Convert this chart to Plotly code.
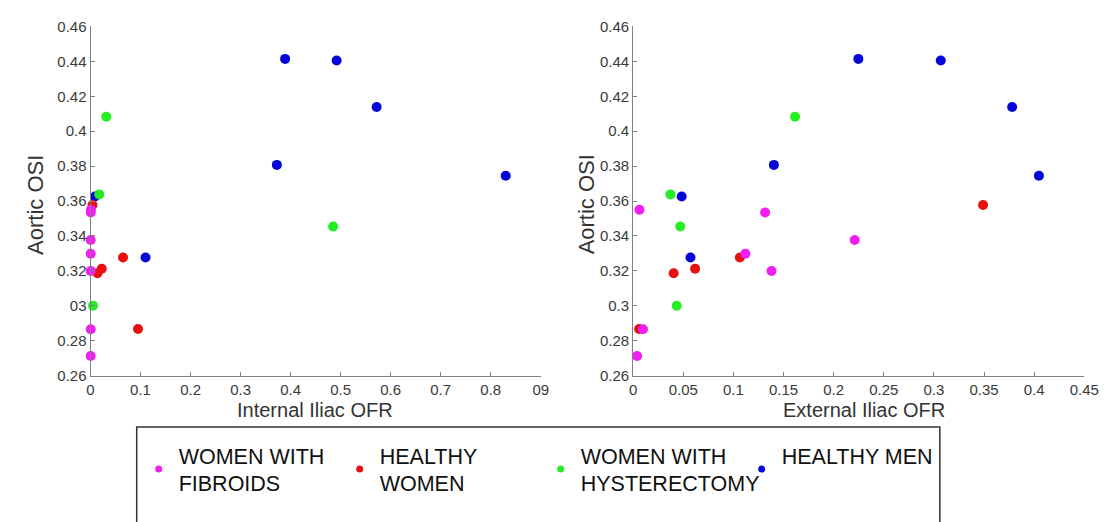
import plotly.graph_objects as go

W, H = 1119, 522

# ---------------- data ----------------
groups = ["WOMEN WITH<br>FIBROIDS", "HEALTHY<br>WOMEN", "WOMEN WITH<br>HYSTERECTOMY", "HEALTHY MEN<br> "]
colors = ["#f01ef0", "#e8100f", "#22ee22", "#0505d8"]

# Aortic OSI per subject (shared by both panels)
osi_fibroids = [0.3550, 0.3534, 0.3377, 0.3298, 0.3199, 0.2866, 0.2713]
osi_healthy_women = [0.3577, 0.3277, 0.3186, 0.3212, 0.2867]
osi_hysterectomy = [0.4083, 0.3638, 0.3454, 0.3000]
osi_healthy_men = [0.4414, 0.4405, 0.4139, 0.3807, 0.3745, 0.3626, 0.3277]

# Internal iliac OFR
int_fibroids = [0.0008, 0.0006, 0.0004, 0.0004, 0.0004, 0.0004, 0.0004]
int_healthy_women = [0.0040, 0.0650, 0.0140, 0.0225, 0.0950]
int_hysterectomy = [0.0315, 0.0175, 0.4850, 0.0050]
int_healthy_men = [0.3890, 0.4920, 0.5720, 0.3725, 0.8300, 0.0090, 0.1100]

# External iliac OFR
ext_fibroids = [0.0063, 0.1316, 0.2210, 0.1120, 0.1380, 0.0098, 0.0039]
ext_healthy_women = [0.3490, 0.1064, 0.0404, 0.0618, 0.0060]
ext_hysterectomy = [0.1615, 0.0372, 0.0470, 0.0435]
ext_healthy_men = [0.2246, 0.3068, 0.3780, 0.1404, 0.4047, 0.0484, 0.0572]

y_tickvals = [0.26, 0.28, 0.30, 0.32, 0.34, 0.36, 0.38, 0.40, 0.42, 0.44, 0.46]
y_ticktext_left = ["0.26", "0.28", "03", "0.32", "0.34", "0.36", "0.38", "0.4", "0.42", "0.44", "0.46"]
y_ticktext_right = ["0.26", "0.28", "0.3", "0.32", "0.34", "0.36", "0.38", "0.4", "0.42", "0.44", "0.46"]
x_tickvals_left = [0, 0.1, 0.2, 0.3, 0.4, 0.5, 0.6, 0.7, 0.8, 0.9]
x_ticktext_left = ["0", "0.1", "0.2", "0.3", "0.4", "0.5", "0.6", "0.7", "0.8", "09"]
x_tickvals_right = [0, 0.05, 0.1, 0.15, 0.2, 0.25, 0.3, 0.35, 0.4, 0.45]
x_ticktext_right = ["0", "0.05", "0.1", "0.15", "0.2", "0.25", "0.3", "0.35", "0.4", "0.45"]

x_title_left = "Internal Iliac OFR"
x_title_right = "External Iliac OFR"
y_title = "Aortic OSI"

# ---------------- figure ----------------
fig = go.Figure()

osi = [osi_fibroids, osi_healthy_women, osi_hysterectomy, osi_healthy_men]
ints = [int_fibroids, int_healthy_women, int_hysterectomy, int_healthy_men]
exts = [ext_fibroids, ext_healthy_women, ext_hysterectomy, ext_healthy_men]

draw_order = [3, 2, 1, 0]  # blue, green, red, magenta (magenta on top)
for i in draw_order:
    fig.add_trace(go.Scatter(x=ints[i], y=osi[i], mode="markers", xaxis="x", yaxis="y",
                             cliponaxis=False,
                             marker=dict(color=colors[i], size=10), showlegend=False))
    fig.add_trace(go.Scatter(x=exts[i], y=osi[i], mode="markers", xaxis="x2", yaxis="y2",
                             cliponaxis=False,
                             marker=dict(color=colors[i], size=10), showlegend=False))

# legend entries
for i in range(4):
    fig.add_trace(go.Scatter(x=[None], y=[None], mode="markers", name=groups[i],
                             marker=dict(color=colors[i], size=7), showlegend=True))

tick_font = dict(family="Liberation Sans, Arial, sans-serif", size=15, color="#3a3a3a")
axis_common = dict(showline=True, linecolor="#808080", linewidth=1, ticks="inside", ticklen=4,
                   tickcolor="#808080", showgrid=False, zeroline=False, mirror=False,
                   tickfont=tick_font, tickmode="array")

def px_x(p):
    return p / W

def px_y(p):
    return 1 - p / H

fig.update_layout(
    width=W, height=H,
    margin=dict(l=0, r=0, t=0, b=0),
    paper_bgcolor="white", plot_bgcolor="white",
    xaxis=dict(domain=[px_x(88), px_x(546)], range=[0, 0.9], anchor="y",
               tickvals=x_tickvals_left, ticktext=x_ticktext_left, **axis_common),
    yaxis=dict(domain=[px_y(379), px_y(18)], range=[0.26, 0.46], anchor="x",
               tickvals=y_tickvals, ticktext=y_ticktext_left, **axis_common),
    xaxis2=dict(domain=[px_x(640), px_x(1099)], range=[0, 0.45], anchor="y2",
                tickvals=x_tickvals_right, ticktext=x_ticktext_right, **axis_common),
    yaxis2=dict(domain=[px_y(379), px_y(18)], range=[0.26, 0.46], anchor="x2",
                tickvals=y_tickvals, ticktext=y_ticktext_right, **axis_common),
    legend=dict(orientation="h", x=px_x(137), y=px_y(440), xanchor="left", yanchor="top",
                bgcolor="rgba(0,0,0,0)", borderwidth=0,
                font=dict(family="Liberation Sans, Arial, sans-serif", size=21.5, color="#111111"),
                entrywidth=156, entrywidthmode="pixels", itemwidth=30, valign="middle",
                tracegroupgap=0),
    showlegend=True,
)

title_font = dict(family="Liberation Sans, Arial, sans-serif", size=20, color="#333333")
ytitle_font = dict(family="Liberation Sans, Arial, sans-serif", size=22, color="#333333")

fig.add_annotation(text=x_title_left, x=px_x(316), y=px_y(415), xref="paper", yref="paper",
                   showarrow=False, font=title_font, xanchor="center", yanchor="middle")
fig.add_annotation(text=x_title_right, x=px_x(875), y=px_y(415), xref="paper", yref="paper",
                   showarrow=False, font=title_font, xanchor="center", yanchor="middle")
fig.add_annotation(text=y_title, x=px_x(32), y=px_y(202), xref="paper", yref="paper", textangle=-90,
                   showarrow=False, font=ytitle_font, xanchor="center", yanchor="middle")
fig.add_annotation(text=y_title, x=px_x(592), y=px_y(202), xref="paper", yref="paper", textangle=-90,
                   showarrow=False, font=ytitle_font, xanchor="center", yanchor="middle")

# legend frame (extends past the bottom edge as in the reference)
fig.add_shape(type="rect", xref="paper", yref="paper",
              x0=px_x(135), x1=px_x(952), y0=px_y(540), y1=px_y(432),
              line=dict(color="#333333", width=1.5), fillcolor="rgba(0,0,0,0)", layer="below")

fig.write_html("out.html")
